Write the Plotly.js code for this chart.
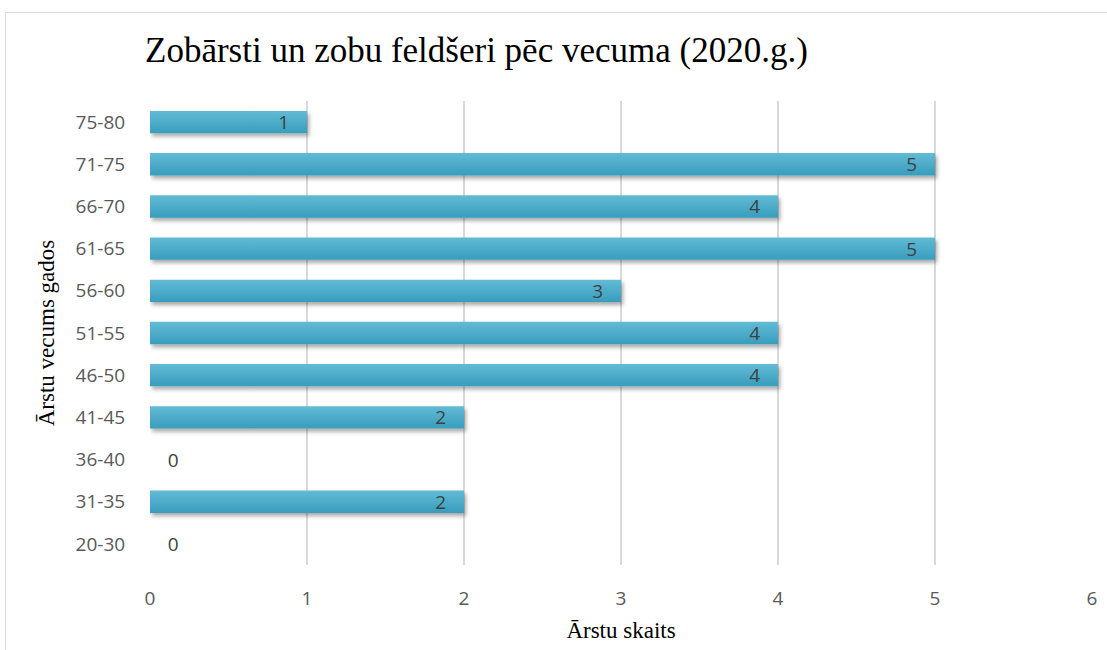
<!DOCTYPE html>
<html>
<head>
<meta charset="utf-8">
<script src="https://cdn.plot.ly/plotly-3.0.1.min.js"></script>
<style>
html,body{margin:0;padding:0;background:#fff;overflow:hidden;}
#frame{position:absolute;left:5px;top:12px;width:1200px;height:700px;border:1px solid #d9d9d9;box-sizing:border-box;pointer-events:none;}
#chart{width:1107px;height:650px;}
</style>
</head>
<body>
<div id="chart"></div>
<div id="frame"></div>
<script>
var ageGroups = ["20-30","31-35","36-40","41-45","46-50","51-55","56-60","61-65","66-70","71-75","75-80"];
var doctorCounts = [0,2,0,2,4,4,3,5,4,5,1];
var xTicks = [0,1,2,3,4,5,6];

var pad = "\u00a0\u00a0\u00a0";
var labels = doctorCounts.map(function(v){ return v === 0 ? "\u00a0\u00a0\u00a0" + v : v + pad; });
var positions = doctorCounts.map(function(v){ return v === 0 ? "outside" : "inside"; });

var trace = {
  type: "bar",
  orientation: "h",
  y: ageGroups,
  x: doctorCounts,
  text: labels,
  textposition: positions,
  textangle: 0,
  insidetextanchor: "end",
  constraintext: "none",
  cliponaxis: false,
  textfont: {family: "Open Sans, sans-serif", size: 19, color: "#404040"},
  marker: {color: "#4aabc9", line: {width: 0}},
  hoverinfo: "none"
};

var layout = {
  width: 1107,
  height: 650,
  margin: {l: 150, r: 15, t: 101, b: 85},
  paper_bgcolor: "#ffffff",
  plot_bgcolor: "#ffffff",
  bargap: 0.47,
  showlegend: false,
  title: {
    text: "Zobārsti un zobu feldšeri pēc vecuma (2020.g.)",
    font: {family: "Liberation Serif, Times New Roman, serif", size: 35, color: "#000000"},
    xref: "container", x: 145/1107, xanchor: "left",
    yref: "container", y: 1 - 50/650, yanchor: "middle"
  },
  xaxis: {
    range: [0, 6],
    tickvals: xTicks,
    ticktext: xTicks.map(String),
    showgrid: true,
    gridcolor: "#d9d9d9",
    gridwidth: 2,
    zeroline: false,
    showline: false,
    ticks: "outside",
    ticklen: 16,
    tickcolor: "rgba(0,0,0,0)",
    tickfont: {family: "Open Sans, sans-serif", size: 19, color: "#595959"},
    title: {
      text: "Ārstu skaits",
      font: {family: "Liberation Serif, Times New Roman, serif", size: 23, color: "#000000"},
      standoff: 12
    },
    fixedrange: true
  },
  yaxis: {
    type: "category",
    categoryorder: "array",
    categoryarray: ageGroups,
    showgrid: false,
    zeroline: false,
    showline: false,
    ticks: "outside",
    ticklen: 20,
    tickcolor: "rgba(0,0,0,0)",
    tickfont: {family: "Open Sans, sans-serif", size: 19, color: "#595959"},
    title: {
      text: "Ārstu vecums gados",
      font: {family: "Liberation Serif, Times New Roman, serif", size: 23, color: "#000000"},
      standoff: 14
    },
    fixedrange: true
  }
};

Plotly.newPlot("chart", [trace], layout, {displayModeBar: false, staticPlot: true}).then(function(gd){
  var svg = gd.querySelector("svg.main-svg");
  var ns = "http://www.w3.org/2000/svg";
  var defs = document.createElementNS(ns, "defs");
  defs.innerHTML =
    '<linearGradient id="barGrad" x1="0" y1="0" x2="0" y2="1">' +
    '<stop offset="0" stop-color="#62bbd5"/><stop offset="1" stop-color="#389dbd"/></linearGradient>' +
    '<filter id="barShadow" x="-5%" y="-60%" width="115%" height="260%">' +
    '<feDropShadow dx="2" dy="3" stdDeviation="2.2" flood-color="#000" flood-opacity="0.35"/></filter>';
  svg.insertBefore(defs, svg.firstChild);
  gd.querySelectorAll(".bars .point path").forEach(function(p){
    p.style.fill = "url(#barGrad)";
    p.setAttribute("filter", "url(#barShadow)");
  });
});
</script>
</body>
</html>
